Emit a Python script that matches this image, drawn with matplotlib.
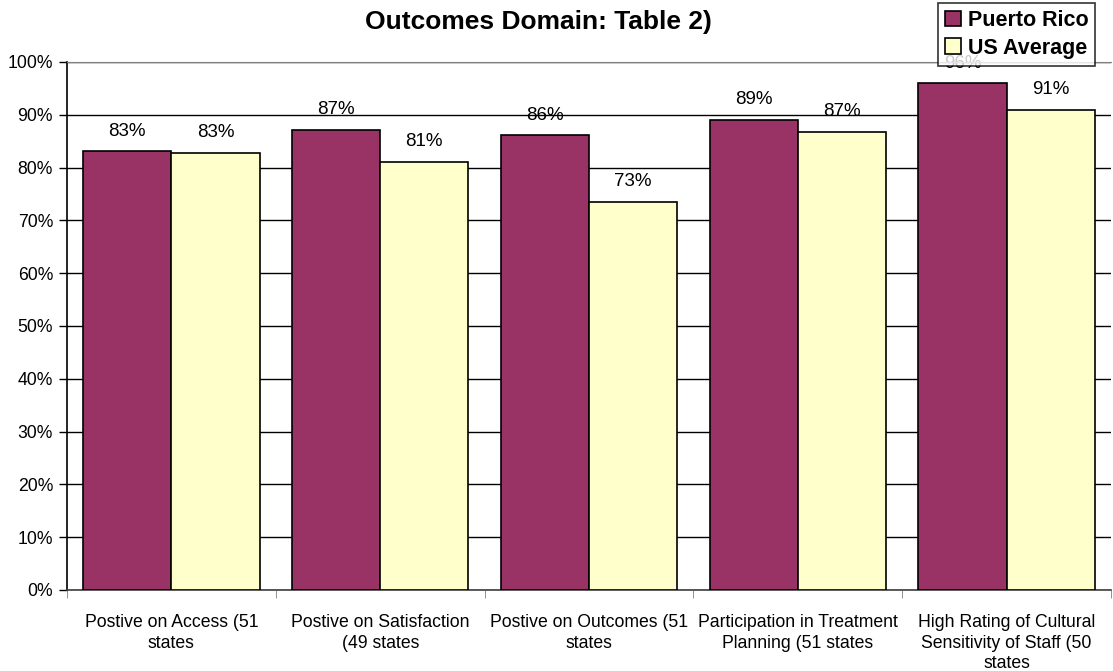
import numpy as np
import matplotlib.pyplot as plt

plt.rcParams['font.family'] = ['Liberation Sans', 'DejaVu Sans']

categories = ['Postive on Access (51\nstates', 'Postive on Satisfaction\n(49 states',
              'Postive on Outcomes (51\nstates', 'Participation in Treatment\nPlanning (51 states',
              'High Rating of Cultural\nSensitivity of Staff (50\nstates']
puerto_rico = [83.1, 87.2, 86.1, 89.0, 96.0]
us_average = [82.8, 81.1, 73.5, 86.8, 90.9]
pr_labels = ['83%', '87%', '86%', '89%', '96%']
us_labels = ['83%', '81%', '73%', '87%', '91%']

fig = plt.figure(figsize=(11.13, 6.71), dpi=100)
ax = fig.add_axes([67 / 1113, 1 - 590 / 671, (1111 - 67) / 1113, (590 - 62) / 671])

x = np.arange(len(categories))
w = 0.422
b1 = ax.bar(x - w / 2, puerto_rico, w, color='#993366', edgecolor='black', linewidth=1.2, zorder=3,
            label='Puerto Rico')
b2 = ax.bar(x + w / 2, us_average, w, color='#FFFFCC', edgecolor='black', linewidth=1.2, zorder=3,
            label='US Average')

for rect, lab in zip(b1, pr_labels):
    ax.text(rect.get_x() + rect.get_width() / 2, rect.get_height() + 2.2, lab,
            ha='center', va='bottom', fontsize=13.5, zorder=2)
for rect, lab in zip(b2, us_labels):
    ax.text(rect.get_x() + rect.get_width() / 2, rect.get_height() + 2.2, lab,
            ha='center', va='bottom', fontsize=13.5, zorder=2)

ax.set_xlim(-0.5, len(categories) - 0.5)
ax.set_ylim(0, 100)
ax.set_yticks(np.arange(0, 101, 10))
ax.set_yticklabels([f'{v}%' for v in range(0, 101, 10)], fontsize=12.7)
ax.yaxis.grid(True, color='black', linewidth=1, zorder=0)
ax.set_axisbelow(True)

ax.set_xticks(x)
ax.set_xticklabels(categories, fontsize=12.7, linespacing=1.3)
ax.tick_params(axis='x', length=0, pad=17)
ax.set_xticks(np.arange(-0.5, len(categories)), minor=True)
ax.tick_params(axis='x', which='minor', length=6, color='#808080')
ax.tick_params(axis='y', length=6, width=1, pad=4)

ax.spines['top'].set_color('#808080')
ax.spines['right'].set_visible(False)
ax.spines['left'].set_linewidth(1.2)
ax.spines['bottom'].set_color('#404040')
ax.spines['bottom'].set_linewidth(1.2)

fig.text(538 / 1113, 1 - 22 / 671, 'Outcomes Domain: Table 2)', ha='center', va='center',
         fontsize=19, fontweight='bold')

leg = fig.legend(handles=[b1, b2], loc='upper left', bbox_to_anchor=(938 / 1113, 1 - 3 / 671),
                 frameon=True, fancybox=False, edgecolor='black',
                 prop={'weight': 'bold', 'size': 15.5}, handlelength=0.75, handleheight=0.75,
                 handletextpad=0.3, borderpad=0.33, labelspacing=0.3, borderaxespad=0)
leg.get_frame().set_linewidth(1.2)
leg.set_zorder(10)

fig.savefig('out.png', dpi=100)
